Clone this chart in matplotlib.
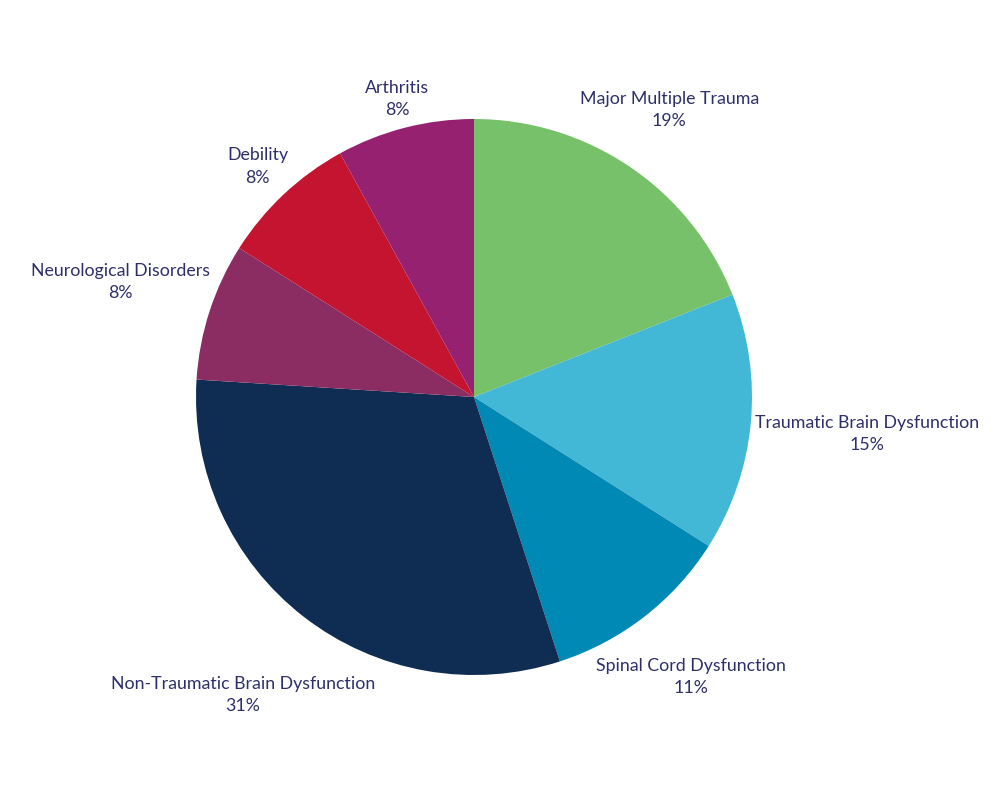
import numpy as np
import matplotlib
matplotlib.use('Agg')
import matplotlib.pyplot as plt

categories = ['Major Multiple Trauma', 'Traumatic Brain Dysfunction', 'Spinal Cord Dysfunction',
              'Non-Traumatic Brain Dysfunction', 'Neurological Disorders', 'Debility', 'Arthritis']
shares = [19, 15, 11, 31, 8, 8, 8]
colors = ['#77c16a', '#43b7d6', '#0089b5', '#0f2d53', '#8b2d62', '#c41430', '#952170']

plt.rcParams['font.family'] = ['Lato', 'DejaVu Sans']

fig = plt.figure(figsize=(10, 7.88), dpi=100)
# pie centre at (474, 397) px, radius ~278 px
ax = fig.add_axes([(474 - 278) / 1000, 1 - (397 + 278) / 788, 556 / 1000, 556 / 788])

wedges, _ = ax.pie(shares, colors=colors, startangle=90, counterclock=False,
                   wedgeprops=dict(linewidth=0))
ax.set_aspect('equal')
ax.set_xlim(-1, 1)
ax.set_ylim(-1, 1)

fig.canvas.draw()
renderer = fig.canvas.get_renderer()
c_px = ax.transData.transform((0, 0))
r_px = ax.transData.transform((1, 0))[0] - c_px[0]

# labels sit just outside the rim, pushed out by the text box extent
for w, name, val in zip(wedges, categories, shares):
    ang = np.deg2rad((w.theta1 + w.theta2) / 2)
    t = ax.text(0, 0, f'{name}\n{val}%', ha='center', va='center', multialignment='center',
                fontsize=12.8, color='#2e2f6a', linespacing=1.5)
    bb = t.get_window_extent(renderer)
    hw, hh = bb.width / 2, bb.height / 2
    ext = hw * abs(np.cos(ang)) + hh * abs(np.sin(ang))
    d = r_px + ext + 3
    px = (c_px[0] + d * np.cos(ang), c_px[1] + d * np.sin(ang))
    t.set_position(ax.transData.inverted().transform(px))
    t.set_clip_on(False)

fig.savefig('out.png', dpi=100, facecolor='white')
